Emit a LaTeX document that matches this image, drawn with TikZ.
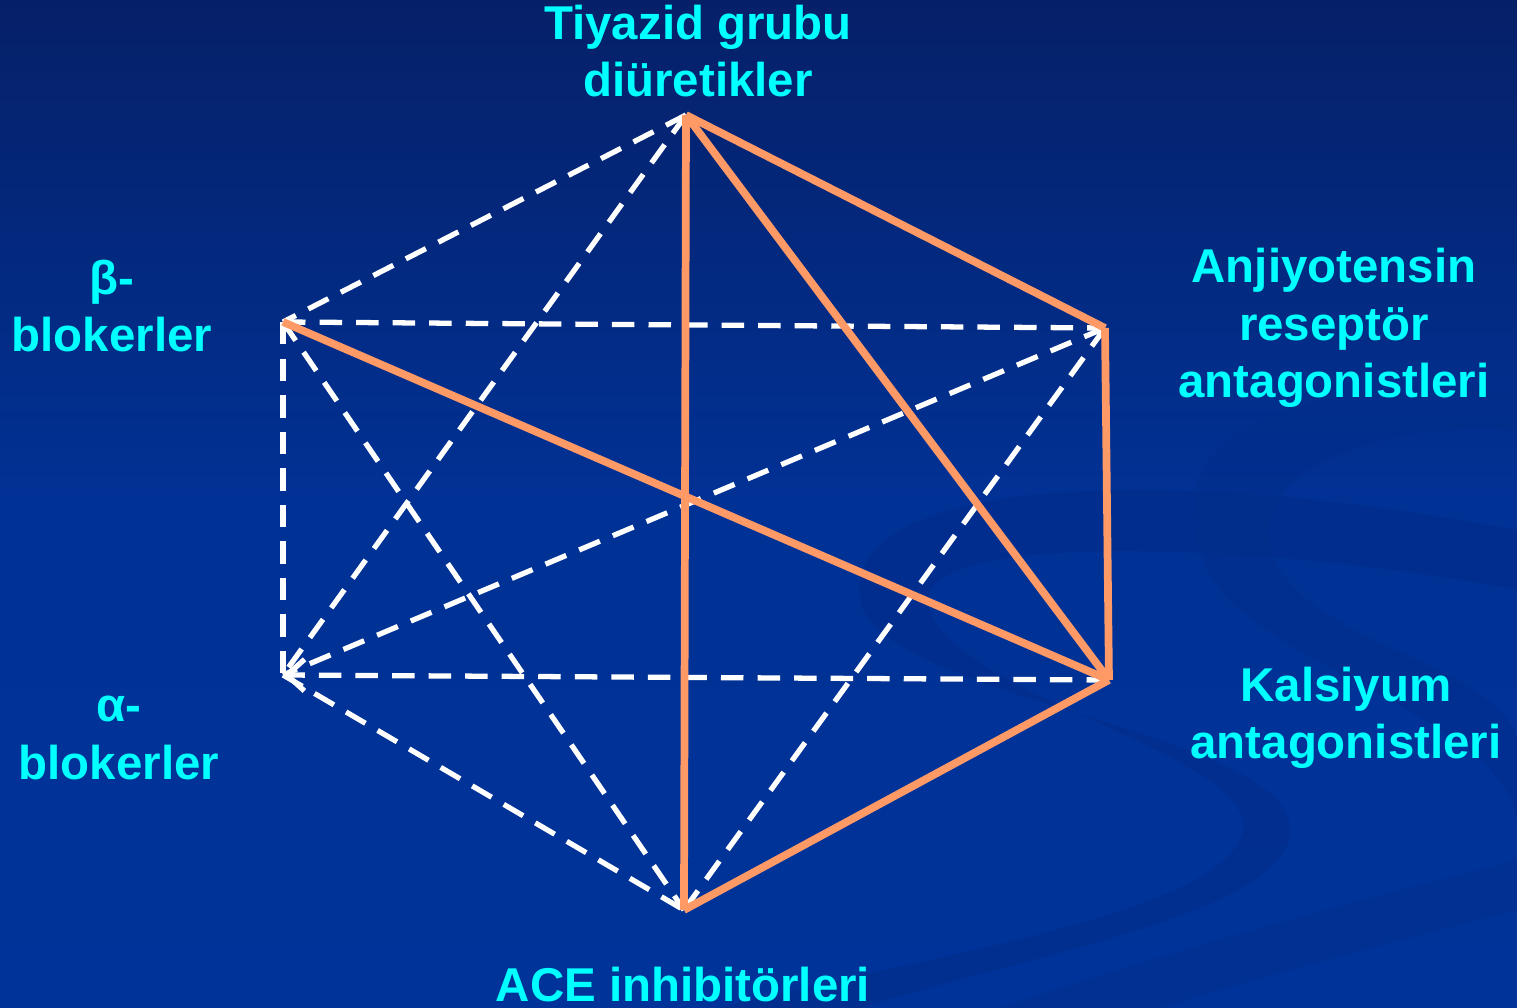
\documentclass[tikz,border=0pt]{standalone}
\usepackage{fontspec}
\setmainfont{Liberation Sans}
\definecolor{main}{RGB}{0, 51, 153}
\definecolor{top}{RGB}{6, 32, 104}
\definecolor{accent}{RGB}{255, 153, 102}
\definecolor{label}{RGB}{0, 255, 255}
\usetikzlibrary{arrows.meta, positioning, calc}

\begin{document}
\begin{tikzpicture}[
            lbl/.style={text=label, align=center, font=\fontsize{13.5}{16.4}\selectfont\bfseries},
            good/.style={accent, line width=2.2pt},
            weak/.style={white, line width=1.5pt, dash pattern=on 6.4pt off 4pt},
            arr/.style={-{Straight Barb[length=5pt, width=9pt]}, weak}
        ]
            % background
            \shade[top color=top, bottom color=main, middle color=main!92!top] (0,0) rectangle (15.17,-10.08);
            \useasboundingbox (0,0) rectangle (15.17,-10.08);
            \fill[top!35!main, opacity=0.5] (8.6,-6.0) .. controls (8.4,-4.8) and (11.5,-4.6) .. (15.17,-5.3) -- (15.17,-5.9) .. controls (12.5,-5.4) and (9.0,-5.3) .. (9.3,-6.1) .. controls (9.6,-7.0) and (12.8,-7.6) .. (12.4,-8.4) .. controls (12.0,-9.2) and (9.0,-9.6) .. (7.2,-10.08) -- (8.6,-10.08) .. controls (10.5,-9.5) and (12.9,-9.1) .. (12.9,-8.3) .. controls (12.9,-7.3) and (8.8,-7.0) .. (8.6,-6.0) -- cycle;
            \fill[top!35!main, opacity=0.4] (12.0,-5.2) .. controls (11.6,-4.2) and (13.8,-3.7) .. (15.17,-3.9) -- (15.17,-4.3) .. controls (14.0,-4.2) and (12.6,-4.6) .. (12.7,-5.4) .. controls (12.8,-6.4) and (15.0,-6.6) .. (15.17,-7.4) -- (15.17,-8.2) .. controls (15.0,-7.0) and (11.7,-6.5) .. (12.0,-5.2) -- cycle;
            \fill[top!35!main, opacity=0.4] (10.0,-10.08) .. controls (12.0,-9.4) and (14.0,-8.9) .. (15.17,-8.6) -- (15.17,-9.1) .. controls (14.0,-9.4) and (12.5,-9.8) .. (11.6,-10.08) -- cycle;

            % vertices
            \coordinate (tiy) at (6.86,-1.15);
            \coordinate (beta) at (2.83,-3.22);
            \coordinate (anj) at (11.05,-3.28);
            \coordinate (alfa) at (2.83,-6.75);
            \coordinate (kal) at (11.09,-6.80);
            \coordinate (ace) at (6.84,-9.10);

            % labels
            \node[lbl] (tiyL) at (6.98,-0.51) {Tiyazid grubu\\diüretikler};
            \node[lbl] (betaL) at (1.12,-3.06) {β-\\blokerler};
            \node[lbl] (anjL) at (13.34,-3.28) {Anjiyotensin\\reseptör\\antagonistleri};
            \node[lbl] (alfaL) at (1.19,-7.38) {α-\\blokerler};
            \node[lbl] (kalL) at (13.46,-7.18) {Kalsiyum\\antagonistleri};
            \node[lbl] (aceL) at (6.83,-9.85) {ACE inhibitörleri};

            % dashed pairs
            \draw[weak] (tiy) -- (beta);
            \draw[weak] (tiy) -- (alfa);
            \draw[weak] (beta) -- (anj);
            \draw[weak] (beta) -- (alfa);
            \draw[weak] (beta) -- (ace);
            \draw[weak] (anj) -- (alfa);
            \draw[weak] (anj) -- (ace);
            \draw[weak] (alfa) -- (ace);
            \draw[arr] (kal) -- (alfa);

            % preferred pairs
            \draw[good] (tiy) -- (ace);
            \draw[good] (tiy) -- (kal);
            \draw[good] (tiy) -- (anj);
            \draw[good] (anj) -- (kal);
            \draw[good] (beta) -- (kal);
            \draw[good] (kal) -- (ace);
        \end{tikzpicture}
\end{document}
